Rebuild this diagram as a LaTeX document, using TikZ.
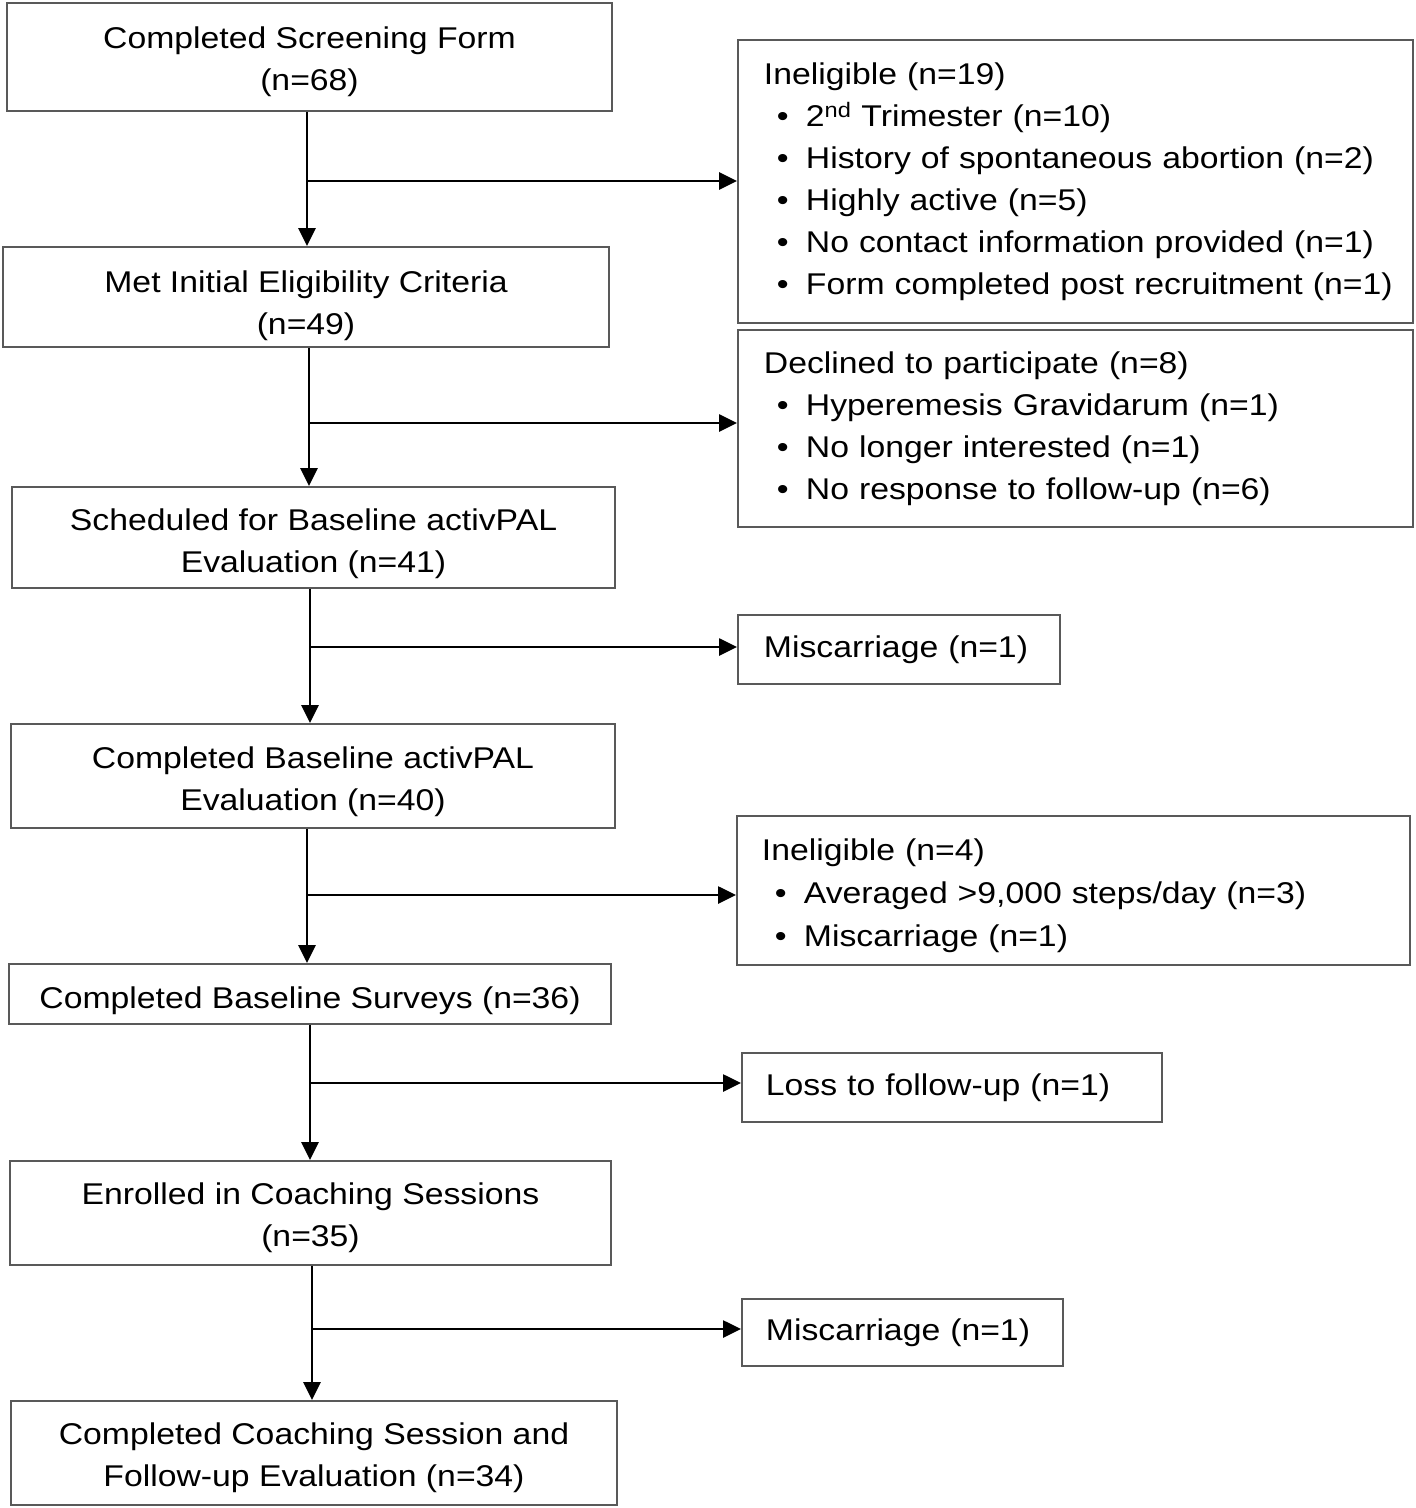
\documentclass[tikz,border=0pt]{standalone}
\usepackage{fontspec}
\setmainfont{Liberation Sans}[FakeStretch=1.125]
\usetikzlibrary{arrows.meta}
\newcommand\bl[1]{\hspace*{13pt}\makebox[29pt][l]{•}\mbox{#1}}
\newcommand\dn[1]{\rule{0pt}{#1pt}}
\begin{document}
\begin{tikzpicture}[x=1pt,y=-1pt,
  box/.style={draw=black!65, line width=1.8pt, rectangle, inner ysep=0pt,
    font=\fontsize{30}{42}\selectfont},
  mainbox/.style={box, align=center, inner xsep=0pt},
  sidebox/.style={box, align=left, anchor=west, inner xsep=26pt},
  arr/.style={line width=2.7pt, -{Triangle[length=18pt,width=17pt]}},
]
\useasboundingbox (0,0) rectangle (1416,1508);

% main column
\node[mainbox, minimum width=605pt, minimum height=108pt] (s1) at (309.5,57)
  {\dn{32}Completed Screening Form\\(n=68)};
\node[mainbox, minimum width=606pt, minimum height=100pt] (s2) at (306,297)
  {\dn{39}Met Initial Eligibility Criteria\\(n=49)};
\node[mainbox, minimum width=603pt, minimum height=101pt] (s3) at (313.5,537.5)
  {\dn{34}Scheduled for Baseline activPAL\\Evaluation (n=41)};
\node[mainbox, minimum width=604pt, minimum height=104pt] (s4) at (313,776)
  {\dn{34}Completed Baseline activPAL\\Evaluation (n=40)};
\node[mainbox, minimum width=602pt, minimum height=60pt] (s5) at (310,994)
  {\dn{36}Completed Baseline Surveys (n=36)};
\node[mainbox, minimum width=601pt, minimum height=104pt] (s6) at (310.5,1213)
  {\dn{32}Enrolled in Coaching Sessions\\(n=35)};
\node[mainbox, minimum width=606pt, minimum height=104pt] (s7) at (314,1453)
  {\dn{32}Completed Coaching Session and\\Follow-up Evaluation (n=34)};

% side boxes
\node[sidebox, text width=623pt, minimum height=283pt] (rA) at (737,181.5)
  {Ineligible (n=19)\\
   \bl{2\textsuperscript{nd} Trimester (n=10)}\\
   \bl{History of spontaneous abortion (n=2)}\\
   \bl{Highly active (n=5)}\\
   \bl{No contact information provided (n=1)}\\
   \bl{Form completed post recruitment (n=1)}};
\node[sidebox, text width=623pt, minimum height=197pt] (rB) at (737,428.5)
  {Declined to participate (n=8)\\
   \bl{Hyperemesis Gravidarum (n=1)}\\
   \bl{No longer interested (n=1)}\\
   \bl{No response to follow-up (n=6)}};
\node[sidebox, text width=270pt, minimum height=69pt] (rC) at (737,649.5)
  {Miscarriage (n=1)};
\node[sidebox, inner xsep=25pt, text width=623pt, minimum height=149pt,
      font=\fontsize{30}{43}\selectfont] (rD) at (736,890.5)
  {\dn{32}Ineligible (n=4)\\
   \bl{Averaged >9,000 steps/day (n=3)}\\
   \bl{Miscarriage (n=1)}};
\node[sidebox, inner xsep=24pt, text width=372pt, minimum height=69pt] (rE) at (741,1087.5)
  {Loss to follow-up (n=1)};
\node[sidebox, inner xsep=24pt, text width=273pt, minimum height=67pt] (rF) at (741,1332.5)
  {Miscarriage (n=1)};

% branch points
\coordinate (j1) at (307,181);
\coordinate (j2) at (309,423);
\coordinate (j3) at (310,647);
\coordinate (j4) at (307,895);
\coordinate (j5) at (310,1083);
\coordinate (j6) at (312,1329);

% vertical arrows
\draw[arr] (s1.south -| j1) -- (s2.north -| j1);
\draw[arr] (s2.south -| j2) -- (s3.north -| j2);
\draw[arr] (s3.south -| j3) -- (s4.north -| j3);
\draw[arr] (s4.south -| j4) -- (s5.north -| j4);
\draw[arr] (s5.south -| j5) -- (s6.north -| j5);
\draw[arr] (s6.south -| j6) -- (s7.north -| j6);

% branch arrows
\draw[arr] (j1) -- (rA.west |- j1);
\draw[arr] (j2) -- (rB.west |- j2);
\draw[arr] (j3) -- (rC.west |- j3);
\draw[arr] (j4) -- (rD.west |- j4);
\draw[arr] (j5) -- (rE.west |- j5);
\draw[arr] (j6) -- (rF.west |- j6);
\end{tikzpicture}
\end{document}
